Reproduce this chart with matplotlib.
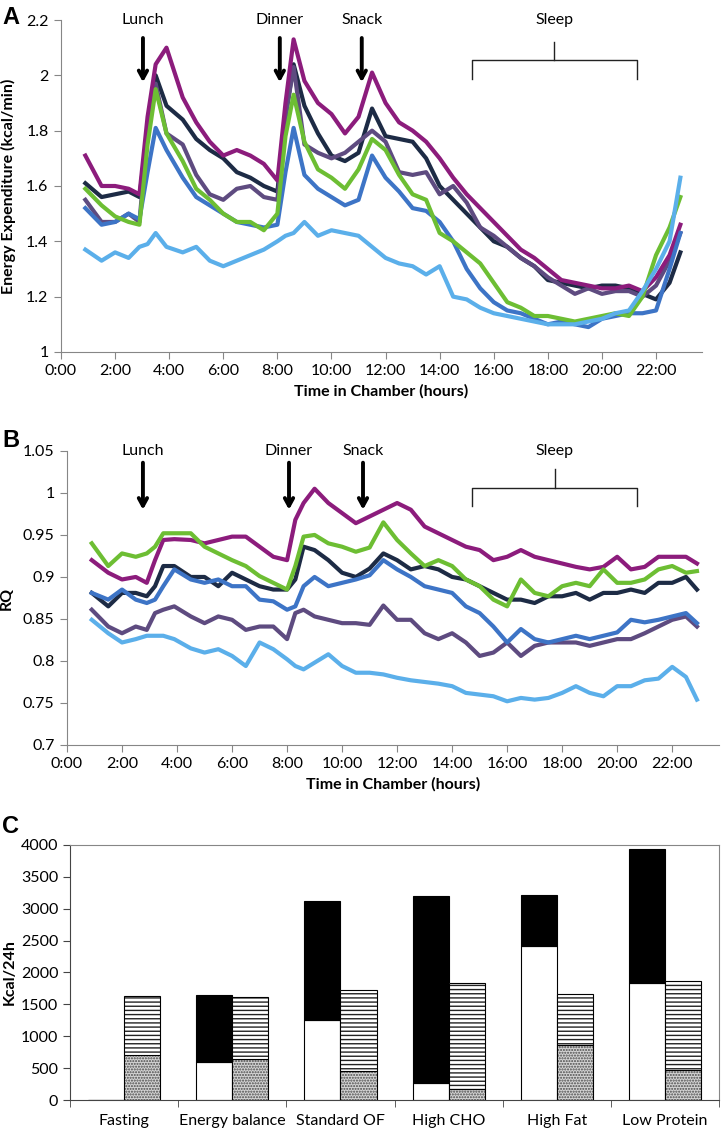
import numpy as np
import matplotlib.pyplot as plt

plt.rcParams['font.family'] = ['Lato', 'DejaVu Sans']
plt.rcParams['hatch.linewidth'] = 1.0

# time in chamber (hours), shared by every trace
hours = [0.9, 1.5, 2.0, 2.5, 2.9, 3.2, 3.5, 3.9, 4.5, 5.0, 5.5, 6.0, 6.5, 7.0, 7.5, 8.0,
         8.3, 8.6, 9.0, 9.5, 10.0, 10.5, 11.0, 11.5, 12.0, 12.5, 13.0, 13.5, 14.0, 14.5,
         15.0, 15.5, 16.0, 16.5, 17.0, 17.5, 18.0, 18.5, 19.0, 19.5, 20.0, 20.5, 21.0,
         21.5, 22.0, 22.5, 22.9]

# panel A - energy expenditure (kcal/min)
ee_magenta = [1.71, 1.60, 1.60, 1.59, 1.57, 1.85, 2.04, 2.10, 1.92, 1.83, 1.76, 1.71, 1.73, 1.71, 1.68, 1.62,
              1.90, 2.13, 1.98, 1.90, 1.86, 1.79, 1.85, 2.01, 1.90, 1.83, 1.80, 1.76, 1.70, 1.63,
              1.57, 1.52, 1.47, 1.42, 1.37, 1.34, 1.30, 1.26, 1.25, 1.24, 1.23, 1.23, 1.24,
              1.22, 1.27, 1.35, 1.46]
ee_navy = [1.61, 1.56, 1.57, 1.58, 1.56, 1.80, 2.00, 1.89, 1.84, 1.77, 1.73, 1.70, 1.65, 1.63, 1.60, 1.58,
           1.85, 2.04, 1.89, 1.79, 1.71, 1.69, 1.72, 1.88, 1.78, 1.77, 1.76, 1.70, 1.60, 1.55,
           1.50, 1.45, 1.40, 1.38, 1.34, 1.31, 1.26, 1.25, 1.24, 1.23, 1.24, 1.24, 1.23,
           1.21, 1.19, 1.25, 1.36]
ee_purple = [1.55, 1.47, 1.47, 1.50, 1.47, 1.80, 1.97, 1.79, 1.75, 1.64, 1.57, 1.55, 1.59, 1.60, 1.56, 1.55,
             1.85, 2.03, 1.75, 1.72, 1.70, 1.72, 1.76, 1.80, 1.76, 1.65, 1.64, 1.65, 1.57, 1.60,
             1.54, 1.45, 1.42, 1.38, 1.34, 1.31, 1.27, 1.24, 1.21, 1.23, 1.21, 1.22, 1.22,
             1.20, 1.24, 1.33, 1.43]
ee_green = [1.59, 1.53, 1.49, 1.47, 1.46, 1.75, 1.95, 1.79, 1.69, 1.59, 1.55, 1.50, 1.47, 1.47, 1.44, 1.50,
            1.78, 1.93, 1.76, 1.66, 1.63, 1.59, 1.66, 1.77, 1.73, 1.64, 1.57, 1.55, 1.43, 1.40,
            1.36, 1.32, 1.25, 1.18, 1.16, 1.13, 1.13, 1.12, 1.11, 1.12, 1.13, 1.14, 1.13,
            1.20, 1.35, 1.45, 1.56]
ee_blue = [1.52, 1.46, 1.47, 1.50, 1.48, 1.65, 1.81, 1.73, 1.63, 1.56, 1.53, 1.50, 1.47, 1.46, 1.45, 1.46,
           1.65, 1.81, 1.64, 1.59, 1.56, 1.53, 1.55, 1.71, 1.63, 1.58, 1.52, 1.51, 1.47, 1.40,
           1.30, 1.23, 1.18, 1.15, 1.14, 1.12, 1.10, 1.11, 1.10, 1.09, 1.12, 1.13, 1.14,
           1.14, 1.15, 1.30, 1.43]
ee_light = [1.37, 1.33, 1.36, 1.34, 1.38, 1.39, 1.43, 1.38, 1.36, 1.38, 1.33, 1.31, 1.33, 1.35, 1.37, 1.40,
            1.42, 1.43, 1.47, 1.42, 1.44, 1.43, 1.42, 1.38, 1.34, 1.32, 1.31, 1.28, 1.31, 1.20,
            1.19, 1.16, 1.14, 1.13, 1.12, 1.11, 1.10, 1.10, 1.10, 1.11, 1.12, 1.14, 1.15,
            1.22, 1.30, 1.40, 1.63]

# panel B - respiratory quotient
rq_magenta = [0.920, 0.905, 0.897, 0.900, 0.893, 0.920, 0.944, 0.945, 0.944, 0.940, 0.944, 0.948, 0.948, 0.936, 0.924, 0.920,
              0.968, 0.988, 1.005, 0.988, 0.976, 0.964, 0.972, 0.980, 0.988, 0.980, 0.960, 0.952, 0.944, 0.936,
              0.932, 0.920, 0.924, 0.932, 0.924, 0.920, 0.916, 0.912, 0.909, 0.912, 0.924, 0.909, 0.912,
              0.924, 0.924, 0.924, 0.916]
rq_navy = [0.881, 0.865, 0.881, 0.881, 0.877, 0.889, 0.913, 0.913, 0.900, 0.900, 0.889, 0.905, 0.897, 0.889, 0.885, 0.885,
           0.897, 0.936, 0.932, 0.920, 0.905, 0.900, 0.910, 0.928, 0.920, 0.909, 0.913, 0.909, 0.900, 0.897,
           0.889, 0.881, 0.873, 0.873, 0.869, 0.877, 0.877, 0.881, 0.873, 0.881, 0.881, 0.885, 0.881,
           0.893, 0.893, 0.900, 0.885]
rq_purple = [0.861, 0.841, 0.833, 0.841, 0.837, 0.857, 0.861, 0.865, 0.853, 0.845, 0.853, 0.849, 0.837, 0.841, 0.841, 0.826,
             0.857, 0.861, 0.853, 0.849, 0.845, 0.845, 0.843, 0.866, 0.849, 0.849, 0.833, 0.826, 0.833, 0.822,
             0.806, 0.810, 0.822, 0.806, 0.818, 0.822, 0.822, 0.822, 0.818, 0.822, 0.826, 0.826, 0.833,
             0.841, 0.849, 0.853, 0.841]
rq_green = [0.940, 0.913, 0.928, 0.924, 0.928, 0.936, 0.952, 0.952, 0.952, 0.936, 0.928, 0.920, 0.913, 0.901, 0.893, 0.885,
            0.913, 0.948, 0.950, 0.940, 0.936, 0.930, 0.935, 0.965, 0.944, 0.928, 0.913, 0.920, 0.913, 0.897,
            0.889, 0.873, 0.865, 0.897, 0.881, 0.877, 0.889, 0.893, 0.889, 0.909, 0.893, 0.893, 0.897,
            0.909, 0.913, 0.905, 0.907]
rq_blue = [0.881, 0.873, 0.885, 0.873, 0.869, 0.873, 0.889, 0.909, 0.897, 0.893, 0.897, 0.889, 0.889, 0.873, 0.871, 0.861,
           0.865, 0.889, 0.900, 0.889, 0.893, 0.897, 0.902, 0.920, 0.909, 0.900, 0.889, 0.885, 0.881, 0.865,
           0.857, 0.841, 0.822, 0.838, 0.826, 0.822, 0.826, 0.830, 0.826, 0.830, 0.834, 0.849, 0.846,
           0.849, 0.853, 0.857, 0.845]
rq_light = [0.849, 0.833, 0.822, 0.826, 0.830, 0.830, 0.830, 0.826, 0.815, 0.810, 0.814, 0.806, 0.794, 0.822, 0.814, 0.802,
            0.794, 0.790, 0.798, 0.808, 0.794, 0.786, 0.786, 0.784, 0.780, 0.777, 0.775, 0.773, 0.770, 0.762,
            0.760, 0.758, 0.752, 0.756, 0.754, 0.756, 0.762, 0.770, 0.762, 0.758, 0.770, 0.770, 0.777,
            0.779, 0.793, 0.781, 0.754]

# panel C - kcal/24h
diets = ['Fasting', 'Energy balance', 'Standard OF', 'High CHO', 'High Fat', 'Low Protein']
white_part = [0, 600, 1250, 270, 2420, 1840]
black_part = [0, 1040, 1870, 2930, 800, 2090]
dotted_part = [700, 640, 460, 180, 870, 470]
striped_part = [930, 980, 1270, 1650, 790, 1390]

colors = {'magenta': '#8C1C7C', 'navy': '#1D2B45', 'purple': '#5E4B80',
          'green': '#6DBE33', 'blue': '#3D74C6', 'light': '#5BAFEA'}
GRAY = '#868686'
FS = 11.5

fig = plt.figure(figsize=(7.22, 11.31), dpi=100)
axA = fig.add_axes([0.0845, 0.6888, 0.8878, 0.2935])
axB = fig.add_axes([0.0928, 0.3413, 0.9030, 0.2600])
axC = fig.add_axes([0.0970, 0.0274, 0.8989, 0.2255])


def time_axis(ax, ylim, yticks, ylabel):
    ax.set_xlim(0, 23.7)
    ax.set_ylim(*ylim)
    ax.set_xticks(range(0, 24, 2))
    ax.set_xticklabels([f'{h}:00' for h in range(0, 24, 2)])
    ax.set_yticks(yticks)
    ax.set_yticklabels([f'{v:g}' for v in yticks])
    for s in ['top', 'right']:
        ax.spines[s].set_visible(False)
    for s in ['left', 'bottom']:
        ax.spines[s].set_color(GRAY)
    ax.tick_params(direction='out', length=5, color=GRAY, labelsize=FS, pad=4)
    ax.set_xlabel('Time in Chamber (hours)', fontweight='bold', fontsize=FS, labelpad=4)
    ax.set_ylabel(ylabel, fontweight='bold', fontsize=FS)


def meals(ax, xs, names, ytext, ytop, ybot):
    for x, name in zip(xs, names):
        ax.text(x, ytext, name, ha='center', va='center', fontsize=FS, clip_on=False)
        ax.annotate('', xy=(x, ybot), xytext=(x, ytop), annotation_clip=False,
                    arrowprops=dict(arrowstyle='->,head_length=0.55,head_width=0.3',
                                    lw=2.8, color='black', shrinkA=0, shrinkB=0))


def sleep(ax, x0, x1, ytext, ystem, ybar, yleg):
    xm = (x0 + x1) / 2
    ax.text(xm, ytext, 'Sleep', ha='center', va='center', fontsize=FS, clip_on=False)
    ax.plot([xm, xm], [ystem, ybar], color='#222222', lw=1, clip_on=False)
    ax.plot([x0, x0, x1, x1], [yleg, ybar, ybar, yleg], color='#222222', lw=1, clip_on=False)


order = ['navy', 'purple', 'magenta', 'blue', 'green', 'light']
ee = {'magenta': ee_magenta, 'navy': ee_navy, 'purple': ee_purple,
      'green': ee_green, 'blue': ee_blue, 'light': ee_light}
rq = {'magenta': rq_magenta, 'navy': rq_navy, 'purple': rq_purple,
      'green': rq_green, 'blue': rq_blue, 'light': rq_light}

for k in order:
    axA.plot(hours, ee[k], color=colors[k], lw=3.0, solid_joinstyle='round')
    axB.plot(hours, rq[k], color=colors[k], lw=3.0, solid_joinstyle='round')

time_axis(axA, (1, 2.2), [1, 1.2, 1.4, 1.6, 1.8, 2, 2.2], 'Energy Expenditure (kcal/min)')
time_axis(axB, (0.7, 1.05), [0.7, 0.75, 0.8, 0.85, 0.9, 0.95, 1, 1.05], 'RQ')
axA.yaxis.set_label_coords(-0.07, 0.5)
axB.yaxis.set_label_coords(-0.082, 0.5)

meals(axA, [3.03, 8.09, 11.12], ['Lunch', 'Dinner', 'Snack'], 2.2, 2.135, 1.975)
sleep(axA, 15.19, 21.29, 2.2, 2.12, 2.055, 1.987)
meals(axB, [2.76, 8.07, 10.76], ['Lunch', 'Dinner', 'Snack'], 1.05, 1.036, 0.980)
sleep(axB, 14.73, 20.73, 1.05, 1.029, 1.006, 0.985)

# panel C
x = np.arange(len(diets))
w = 1 / 3
axC.bar(x - w / 2, white_part, w, color='white', edgecolor='black', lw=0.8)
axC.bar(x - w / 2, black_part, w, bottom=white_part, color='black', edgecolor='black', lw=0.8)
axC.bar(x + w / 2, dotted_part, w, color='#d4d4d4', edgecolor='#4a4a4a', hatch='......', lw=0)
axC.bar(x + w / 2, dotted_part, w, fill=False, edgecolor='black', lw=0.8)
axC.bar(x + w / 2, striped_part, w, bottom=dotted_part, color='white', edgecolor='#222222', hatch='----', lw=0)
axC.bar(x + w / 2, striped_part, w, bottom=dotted_part, fill=False, edgecolor='black', lw=0.8)

axC.set_xlim(-0.5, 5.5)
axC.set_ylim(0, 4000)
axC.set_yticks(range(0, 4001, 500))
axC.set_xticks(x)
axC.set_xticklabels(diets)
axC.set_xticks(np.arange(-0.5, 5.6, 1), minor=True)
axC.tick_params(axis='x', which='major', length=0, labelsize=FS, pad=10)
axC.tick_params(axis='x', which='minor', direction='out', length=5, color='#444444')
axC.tick_params(axis='y', direction='out', length=5, color='#444444', labelsize=FS)
for s in ['top', 'right']:
    axC.spines[s].set_color(GRAY)
for s in ['left', 'bottom']:
    axC.spines[s].set_color('#444444')
axC.set_ylabel('Kcal/24h', fontweight='bold', fontsize=FS)
axC.yaxis.set_label_coords(-0.082, 0.5)

for lab, ytop in [('A', 6), ('B', 429), ('C', 815)]:
    fig.text(0.003, 1 - ytop / 1131, lab, fontsize=17, fontweight='bold',
             family='Liberation Sans', va='top', ha='left')

fig.savefig('out.png', dpi=100)
